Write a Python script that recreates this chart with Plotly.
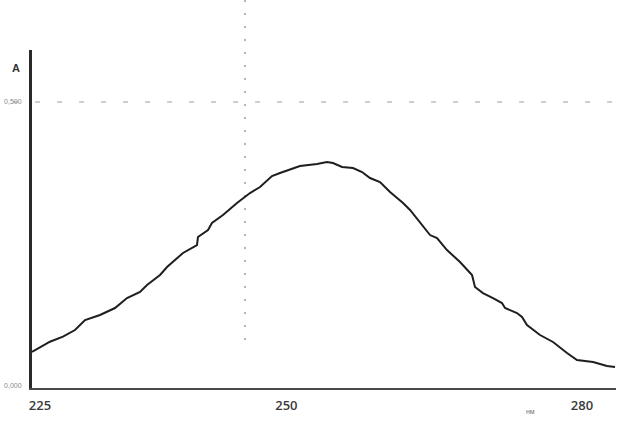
import plotly.graph_objects as go

# Spectrum (wavelength, nm; absorbance A)
wavelength = [224.19, 226.01, 227.33, 228.55, 229.57, 231.09, 232.61, 233.83, 235.15, 235.86,
              237.18, 237.89, 239.51, 240.93, 241.03, 242.05, 242.45, 243.57, 244.99, 246.31,
              247.33, 248.54, 249.35, 251.38, 253.11, 254.12, 254.73, 255.65, 256.76, 257.68,
              258.49, 259.50, 260.52, 261.84, 262.55, 263.56, 264.58, 265.29, 266.30, 267.62,
              268.84, 269.14, 269.95, 270.97, 271.88, 272.19, 273.40, 273.91, 274.42, 275.74,
              277.06, 278.48, 279.49, 281.12, 282.54, 283.35]
absorbance = [0.0599, 0.0780, 0.0868, 0.0986, 0.1162, 0.1250, 0.1373, 0.1549, 0.1655, 0.1778,
              0.1954, 0.2095, 0.2342, 0.2482, 0.2623, 0.2747, 0.2870, 0.3011, 0.3222, 0.3398,
              0.3504, 0.3697, 0.3750, 0.3873, 0.3909, 0.3944, 0.3926, 0.3856, 0.3838, 0.3768,
              0.3662, 0.3592, 0.3416, 0.3222, 0.3099, 0.2887, 0.2658, 0.2606, 0.2394, 0.2183,
              0.1954, 0.1743, 0.1637, 0.1549, 0.1461, 0.1373, 0.1285, 0.1215, 0.1074, 0.0898,
              0.0775, 0.0581, 0.0458, 0.0423, 0.0352, 0.0335]

x_ticks = [225, 250, 280]
y_ticks = [0.0, 0.5]

fig = go.Figure()
fig.add_trace(go.Scatter(x=wavelength, y=absorbance, mode="lines",
                         line=dict(color="#1e1e1e", width=2), showlegend=False,
                         hoverinfo="skip"))

# dotted guide lines (drawn past the plot area like in the scan)
fig.add_shape(type="line", xref="paper", yref="paper", x0=0.3647, x1=0.3647, y0=0.142, y1=1.17,
              line=dict(color="#b4b4b4", width=2, dash="2px,11px"), layer="below")
fig.add_shape(type="line", xref="paper", yref="paper", x0=-0.07, x1=1.0, y0=0.846, y1=0.846,
              line=dict(color="#bdbdbd", width=1.5, dash="5px,17px"), layer="below")

fig.add_annotation(text="A", xref="paper", yref="paper", x=-0.0274, y=0.947,
                   xanchor="center", yanchor="middle",
                   showarrow=False, font=dict(family="Liberation Sans", size=11, color="#333333", weight="bold"))
fig.add_annotation(text="нм", xref="paper", yref="paper", x=0.853, y=-0.071,
                   xanchor="center", yanchor="middle",
                   showarrow=False, font=dict(family="Liberation Sans", size=7, color="#777777"))

fig.update_layout(
    width=618, height=422,
    margin=dict(l=32, r=2, t=50, b=34),
    paper_bgcolor="white", plot_bgcolor="white",
    separators=", ",
    xaxis=dict(range=[224.188, 283.45], tickvals=x_ticks, showgrid=False, zeroline=False,
               automargin=False,
               showline=True, linecolor="#4a4a4a", linewidth=2, ticks="",
               ticklabelstandoff=4,
               tickfont=dict(family="Open Sans", size=13, color="#3a3a3a", weight=600)),
    yaxis=dict(range=[-0.0035, 0.5916], tickvals=y_ticks, tickformat=".3f", showgrid=False,
               automargin=False,
               zeroline=False, showline=True, linecolor="#2a2a2a", linewidth=3, ticks="",
               ticklabelstandoff=6,
               tickfont=dict(family="Liberation Sans", size=7, color="#8a8a8a")),
)

fig.write_html("out.html", config={"displayModeBar": False},
               post_script="document.body.style.margin='0';document.body.style.padding='0';")
